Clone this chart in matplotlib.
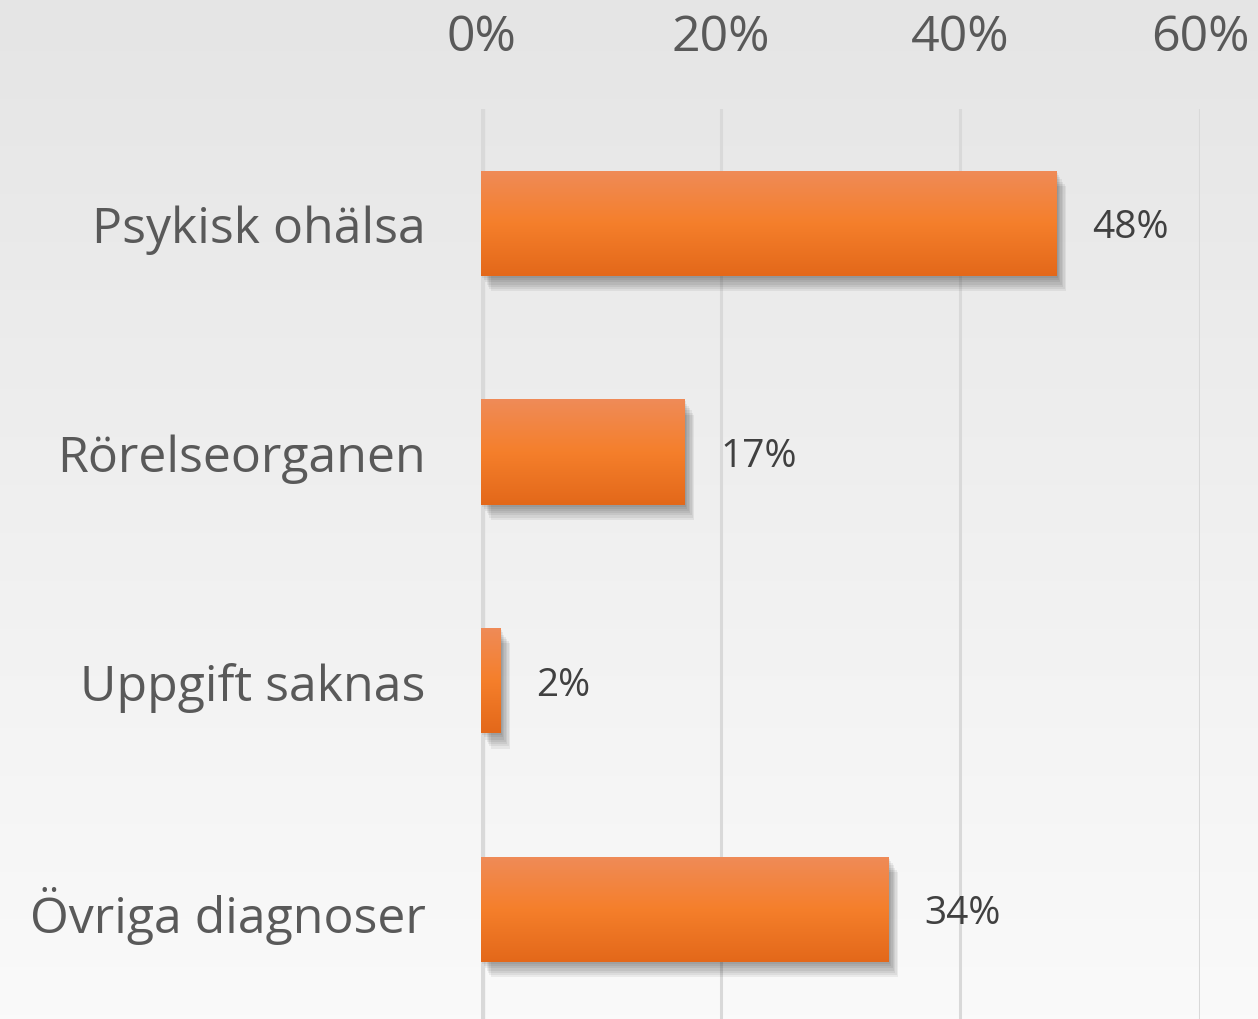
import numpy as np
import matplotlib
matplotlib.use('Agg')
import matplotlib.pyplot as plt
import matplotlib.patheffects as pe
from matplotlib.colors import LinearSegmentedColormap

# Data
categories = ['Psykisk ohälsa', 'Rörelseorganen', 'Uppgift saknas', 'Övriga diagnoser']
values = [48, 17, 1.6, 34]
value_labels = ['48%', '17%', '2%', '34%']
xticks = [0, 20, 40, 60]
xtick_labels = ['0%', '20%', '40%', '60%']

plt.rcParams['font.family'] = ['Open Sans', 'DejaVu Sans']

fig = plt.figure(figsize=(12.58, 10.20), dpi=100)

# Background gradient (light grey at top, almost white at bottom)
bg = fig.add_axes([0, 0, 1, 1], zorder=-5)
bg_cmap = LinearSegmentedColormap.from_list('bg', ['#e5e5e5', '#fafafa'])
bg.imshow(np.linspace(0, 1, 256).reshape(-1, 1), cmap=bg_cmap, aspect='auto',
          extent=(0, 1, 0, 1), origin='upper')
bg.axis('off')

ax = fig.add_axes([481 / 1258, 0, 719 / 1258, 1 - 110 / 1020])
ax.set_facecolor('none')

bar_h = 0.46

# Grid lines
for t in xticks[1:]:
    ax.axvline(t, color='#d9d9d9', lw=2.2, zorder=0)
ax.axvline(0, color='#d9d9d9', lw=6, zorder=0)

# Bars with soft shadow
shadow = [pe.SimplePatchShadow(offset=(1.0 + k, -1.5 - 1.6 * k), shadow_rgbFace='black', alpha=0.06)
          for k in range(7)]
bars = ax.barh(range(len(categories)), values, height=bar_h, color='#f47d2a', zorder=2,
               path_effects=shadow + [pe.Normal()])

grad_cmap = LinearSegmentedColormap.from_list('bar', ['#ef8b58', '#f57f2b', '#e3681a'])
for i, (b, v) in enumerate(zip(bars, values)):
    im = ax.imshow(np.linspace(0, 1, 128).reshape(-1, 1), cmap=grad_cmap, aspect='auto',
                   extent=(0, v, i + bar_h / 2, i - bar_h / 2), origin='upper', zorder=3)
    im.set_clip_path(b)
    ax.annotate(value_labels[i], (v, i), xytext=(26, -3), textcoords='offset points',
                va='center', ha='left', fontsize=28, color='#404040')

ax.set_xlim(0, 60)
ax.set_ylim(3.5 - 4.5 / 229, -0.5)

ax.xaxis.tick_top()
ax.set_xticks(xticks)
ax.set_xticklabels(xtick_labels, fontsize=36, color='#595959')
ax.tick_params(axis='x', length=0, pad=34)
ax.set_yticks(range(len(categories)))
ax.set_yticklabels(categories, fontsize=36, color='#595959')
ax.tick_params(axis='y', length=0, pad=40)

for s in ax.spines.values():
    s.set_visible(False)

fig.savefig('out.png', dpi=100)
